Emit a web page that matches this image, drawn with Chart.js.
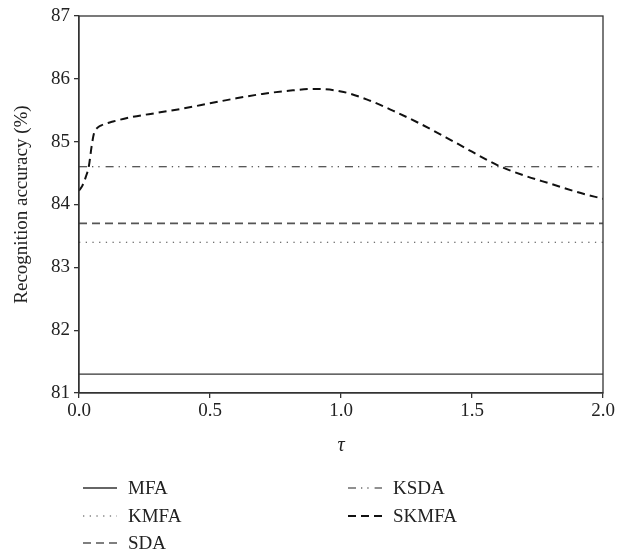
<!DOCTYPE html>
<html>
<head>
<meta charset="utf-8">
<script src="https://cdn.jsdelivr.net/npm/chart.js@4"></script>
<style>
  html, body { margin: 0; padding: 0; background: #fff; }
  #wrap { position: relative; width: 626px; height: 556px; }
  #c { position: absolute; left: 0; top: 0; }
  .leg { position: absolute; font-family: "Liberation Serif", serif; font-size: 19px; color: #222; display: flex; align-items: center; white-space: nowrap; }
  .leg svg { margin-right: 11px; }
</style>
</head>
<body>
<div id="wrap">
  <canvas id="c" width="626" height="556"></canvas>
  <div id="legend"></div>
</div>
<script>
// ---- data ----
const seriesNames = ["MFA", "KMFA", "SDA", "KSDA", "SKMFA"];
const tauRange = [0, 2];
const mfaValue = 81.3;
const kmfaValue = 83.4;
const sdaValue = 83.7;
const ksdaValue = 84.6;
const skmfaTau = [0, 0.013, 0.026, 0.038, 0.048, 0.057, 0.07, 0.085, 0.13, 0.2, 0.3, 0.4, 0.5, 0.6, 0.7, 0.8, 0.9, 1.0, 1.1, 1.2, 1.3, 1.4, 1.5, 1.6, 1.7, 1.8, 1.9, 2.0];
const skmfaValues = [84.22, 84.3, 84.44, 84.62, 84.92, 85.13, 85.22, 85.26, 85.32, 85.39, 85.46, 85.53, 85.61, 85.69, 85.76, 85.81, 85.84, 85.80, 85.67, 85.49, 85.29, 85.07, 84.84, 84.62, 84.46, 84.33, 84.2, 84.09];
const xTickLabels = ["0.0", "0.5", "1.0", "1.5", "2.0"];
const yTickLabels = ["81", "82", "83", "84", "85", "86", "87"];

// ---- styles ----
const FONT = "'Liberation Serif', 'Times New Roman', serif";
const styles = {
  MFA:   { color: "#333", width: 1.3, dash: [] },
  KMFA:  { color: "#444", width: 1.1, dash: [1.3, 5.4] },
  SDA:   { color: "#555", width: 1.6, dash: [8, 5] },
  KSDA:  { color: "#222", width: 1.1, dash: [8, 5, 1.3, 5, 1.3, 6] },
  SKMFA: { color: "#111", width: 2.0, dash: [8, 5] }
};

const flat = v => tauRange.map(t => ({ x: t, y: v }));
const lineData = {
  MFA: flat(mfaValue),
  KMFA: flat(kmfaValue),
  SDA: flat(sdaValue),
  KSDA: flat(ksdaValue),
  SKMFA: skmfaTau.map((t, i) => ({ x: t, y: skmfaValues[i] }))
};

const datasets = seriesNames.map(n => ({
  label: n,
  data: lineData[n],
  borderColor: styles[n].color,
  borderWidth: styles[n].width,
  borderDash: styles[n].dash,
  pointRadius: 0,
  fill: false,
  tension: n === "SKMFA" ? 0.4 : 0,
  cubicInterpolationMode: n === "SKMFA" ? "monotone" : "default"
}));

const frame = {
  id: "frame",
  afterDatasetsDraw(chart) {
    const a = chart.chartArea, ctx = chart.ctx;
    ctx.save();
    ctx.strokeStyle = "#333";
    ctx.lineWidth = 1.3;
    ctx.setLineDash([]);
    ctx.strokeRect(a.left, a.top, a.right - a.left, a.bottom - a.top);
    ctx.restore();
  }
};

new Chart(document.getElementById("c"), {
  type: "line",
  data: { datasets },
  plugins: [frame],
  options: {
    responsive: false,
    animation: false,
    devicePixelRatio: 1,
    layout: { padding: { top: 16, right: 23, left: 0, bottom: 93 } },
    plugins: { legend: { display: false }, tooltip: { enabled: false } },
    scales: {
      x: {
        type: "linear",
        min: 0, max: 2,
        afterBuildTicks(s) { s.ticks = xTickLabels.map(v => ({ value: parseFloat(v) })); },
        afterFit(s) { s.height = 70; },
        ticks: {
          callback: (v) => xTickLabels.find(l => parseFloat(l) === v),
          font: { family: FONT, size: 19 },
          color: "#222",
          padding: 2,
          maxRotation: 0
        },
        grid: { drawOnChartArea: false, tickLength: 5, color: "#333", lineWidth: 1.3 },
        border: { display: true, color: "#333", width: 1.3 },
        title: {
          display: true, text: "τ",
          font: { family: FONT, size: 20, style: "italic" },
          color: "#222",
          padding: { top: 8, bottom: 5 }
        }
      },
      y: {
        min: 81, max: 87,
        afterBuildTicks(s) { s.ticks = yTickLabels.map(v => ({ value: parseFloat(v) })); },
        afterFit(s) { s.width = 79; },
        ticks: {
          callback: (v) => yTickLabels.find(l => parseFloat(l) === v),
          font: { family: FONT, size: 19 },
          color: "#222",
          padding: 4
        },
        grid: { drawOnChartArea: false, tickLength: 5, color: "#333", lineWidth: 1.3 },
        border: { display: true, color: "#333", width: 1.3 },
        title: {
          display: true, text: "Recognition accuracy (%)",
          font: { family: FONT, size: 19 },
          color: "#222",
          padding: { top: 11, bottom: 0 }
        }
      }
    }
  }
});

// ---- HTML legend (two columns) ----
const legendPos = {
  MFA:   { left: 83,  top: 477 },
  KMFA:  { left: 83,  top: 505 },
  SDA:   { left: 83,  top: 532 },
  KSDA:  { left: 348, top: 477 },
  SKMFA: { left: 348, top: 505 }
};
const legendEl = document.getElementById("legend");
seriesNames.forEach(n => {
  const st = styles[n];
  const d = document.createElement("div");
  d.className = "leg";
  d.style.left = legendPos[n].left + "px";
  d.style.top = legendPos[n].top + "px";
  const dash = st.dash.length ? `stroke-dasharray="${st.dash.join(" ")}"` : "";
  d.innerHTML = `<svg width="34" height="6"><line x1="0" y1="3" x2="34" y2="3" stroke="${st.color}" stroke-width="${st.width}" ${dash}/></svg><span>${n}</span>`;
  legendEl.appendChild(d);
});
</script>
</body>
</html>
